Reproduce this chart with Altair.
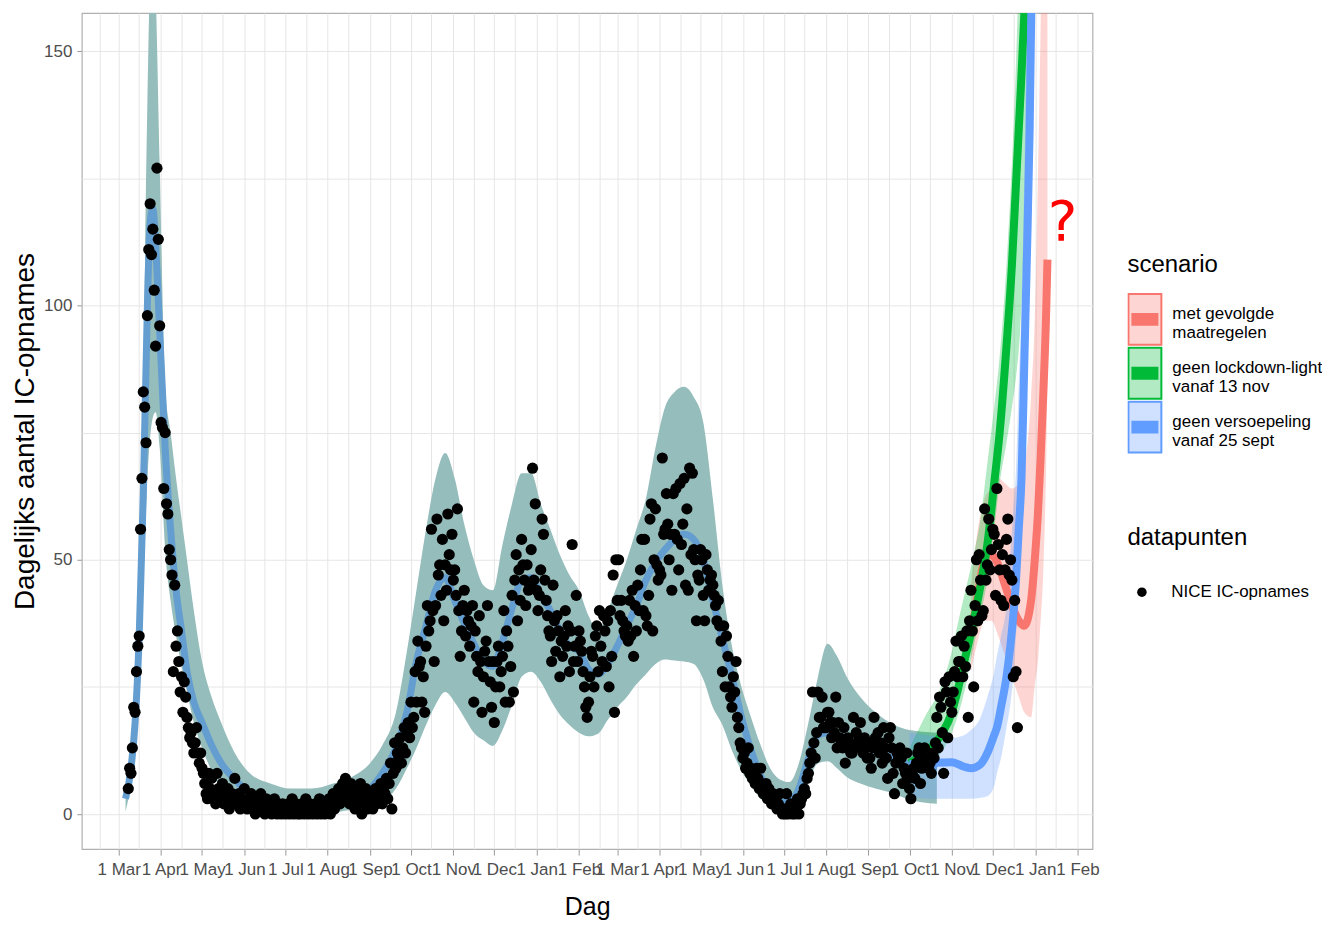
import altair as alt
import pandas as pd

SANS = "Liberation Sans, Arial, Helvetica, sans-serif"

# NICE daily IC admissions (one list per month)
ic_2020_03 = [5, 9, 8, 13, 21, 20, 28, 33, 35, 56, 66, 83, 80, 73, 98, 111, 120, 110, 115, 103, 92, 127, 113, 96]
ic_2020_04 = [77, 76, 64, 75, 61, 59, 52, 50, 47, 28, 45, 33, 36, 30, 24, 27, 20, 26, 23, 19, 17, 15, 16, 14, 12, 14, 17, 12, 10, 12]
ic_2020_05 = [9, 8, 6, 4, 3, 8, 5, 7, 4, 3, 2, 8, 5, 4, 3, 6, 2, 4, 3, 5, 1, 3, 4, 2, 7, 3, 2, 4, 1, 3, 2]
ic_2020_06 = [5, 2, 1, 3, 2, 4, 1, 2, 0, 3, 2, 1, 4, 1, 2, 0, 3, 1, 2, 2, 0, 1, 3, 1, 0, 2, 1, 0, 2, 1]
ic_2020_07 = [0, 1, 2, 0, 1, 3, 0, 1, 2, 0, 1, 0, 2, 1, 0, 3, 1, 0, 2, 1, 0, 1, 2, 0, 1, 3, 0, 2, 1, 0, 2]
ic_2020_08 = [1, 3, 0, 2, 4, 1, 3, 2, 5, 2, 4, 6, 3, 7, 4, 5, 2, 6, 3, 4, 1, 5, 3, 2, 6, 0, 4, 2, 5, 1, 3]
ic_2020_09 = [2, 4, 1, 3, 5, 2, 4, 3, 6, 2, 5, 4, 7, 3, 6, 10, 1, 8, 14, 9, 12, 11, 15, 10, 13, 17, 12, 16, 18, 15]
ic_2020_10 = [22, 17, 19, 28, 22, 34, 29, 30, 22, 27, 20, 33, 41, 36, 38, 56, 40, 30, 41, 58, 47, 49, 43, 54, 38, 49, 44, 59, 51, 48, 55]
ic_2020_11 = [46, 48, 43, 60, 40, 31, 36, 41, 44, 35, 40, 38, 33, 37, 41, 22, 36, 31, 28, 39, 30, 20, 27, 32, 34, 41, 30, 26, 21, 30]
ic_2020_12 = [18, 25, 30, 33, 25, 28, 31, 40, 22, 36, 33, 22, 29, 43, 24, 46, 51, 38, 48, 42, 54, 49, 46, 41, 49, 44, 45, 52, 68, 46, 61]
ic_2021_01 = [44, 40, 43, 48, 58, 55, 46, 42, 39, 36, 35, 30, 45, 38, 32, 39, 36, 27, 34, 31, 35, 40, 33, 37, 28, 36, 53, 30, 33, 43, 30]
ic_2021_02 = [36, 34, 32, 28, 25, 21, 19, 22, 27, 32, 31, 25, 35, 37, 28, 40, 33, 30, 39, 36, 29, 38, 25, 40, 31, 47, 20, 50]
ic_2021_03 = [42, 50, 39, 42, 38, 36, 35, 37, 34, 42, 35, 44, 31, 41, 36, 45, 40, 48, 54, 40, 54, 39, 37, 43, 58, 61, 36, 50, 60, 49, 46]
ic_2021_04 = [48, 47, 70, 55, 56, 63, 57, 50, 55, 44, 63, 55, 64, 54, 48, 65, 53, 57, 66, 45, 60, 44, 68, 51, 67, 52, 50, 38, 47, 46]
ic_2021_05 = [52, 50, 43, 38, 51, 48, 44, 46, 47, 45, 43, 41, 38, 42, 37, 34, 28, 37, 25, 35, 31, 25, 23, 21, 27, 24, 30, 19, 17, 14, 13]
ic_2021_06 = [11, 12, 9, 10, 13, 8, 9, 7, 8, 6, 9, 7, 5, 9, 6, 4, 5, 6, 3, 5, 4, 2, 4, 3, 3, 1, 2, 4, 1, 0]
ic_2021_07 = [1, 0, 4, 0, 1, 2, 0, 1, 0, 1, 3, 0, 2, 3, 4, 5, 4, 7, 8, 10, 12, 24, 14, 11, 16, 24, 19, 19, 23, 17, 17]
ic_2021_08 = [17, 20, 20, 18, 15, 18, 16, 23, 13, 18, 15, 14, 13, 17, 10, 13, 15, 14, 12, 12, 19, 13, 16, 14, 15, 18, 14, 12, 15, 13, 11]
ic_2021_09 = [14, 11, 9, 13, 19, 15, 13, 16, 12, 14, 10, 17, 13, 11, 7, 15, 17, 13, 8, 4, 10, 12, 11, 13, 11, 6, 9, 8, 12, 7]
ic_2021_10 = [5, 3, 8, 9, 7, 10, 12, 13, 6, 9, 11, 13, 10, 11, 9, 10, 8, 12, 11, 14, 19, 13, 23, 21, 16, 8, 26, 24, 15, 27, 22]
ic_2021_11 = [20, 24, 28, 34, 27, 30, 30, 35, 27, 33, 29, 36, 19, 38, 44, 36, 25, 41, 50, 38, 51, 46, 39, 40, 60, 46, 49, 58, 48, 52]
ic_2021_12 = [56, 55, 43, 64, 53, 48, 42, 51, 41, 48, 54, 58, 47, 50, 46, 27, 42, 28, 17]

ic_months = [
    ("2020-03-08", ic_2020_03), ("2020-04-01", ic_2020_04), ("2020-05-01", ic_2020_05),
    ("2020-06-01", ic_2020_06), ("2020-07-01", ic_2020_07), ("2020-08-01", ic_2020_08),
    ("2020-09-01", ic_2020_09), ("2020-10-01", ic_2020_10), ("2020-11-01", ic_2020_11),
    ("2020-12-01", ic_2020_12), ("2021-01-01", ic_2021_01), ("2021-02-01", ic_2021_02),
    ("2021-03-01", ic_2021_03), ("2021-04-01", ic_2021_04), ("2021-05-01", ic_2021_05),
    ("2021-06-01", ic_2021_06), ("2021-07-01", ic_2021_07), ("2021-08-01", ic_2021_08),
    ("2021-09-01", ic_2021_09), ("2021-10-01", ic_2021_10), ("2021-11-01", ic_2021_11),
    ("2021-12-01", ic_2021_12),
]

# model fit (line) with its uncertainty band
fit_dates = ["2020-03-06", "2020-03-10", "2020-03-13", "2020-03-16", "2020-03-19", "2020-03-22", "2020-03-24",
             "2020-03-26", "2020-03-28", "2020-03-31", "2020-04-04", "2020-04-08", "2020-04-12", "2020-04-16",
             "2020-04-20", "2020-04-25", "2020-05-01", "2020-05-08", "2020-05-15", "2020-05-25", "2020-06-05",
             "2020-06-20", "2020-07-05", "2020-07-20", "2020-08-05", "2020-08-20", "2020-09-01", "2020-09-10",
             "2020-09-20", "2020-09-28", "2020-10-05", "2020-10-12", "2020-10-19", "2020-10-26", "2020-11-02",
             "2020-11-09", "2020-11-16", "2020-11-23", "2020-11-30", "2020-12-07", "2020-12-14", "2020-12-21",
             "2020-12-28", "2021-01-04", "2021-01-11", "2021-01-18", "2021-01-25", "2021-02-01", "2021-02-08",
             "2021-02-15", "2021-02-22", "2021-03-01", "2021-03-08", "2021-03-15", "2021-03-22", "2021-03-29",
             "2021-04-05", "2021-04-12", "2021-04-19", "2021-04-26", "2021-05-03", "2021-05-10", "2021-05-17",
             "2021-05-24", "2021-05-31", "2021-06-07", "2021-06-14", "2021-06-21", "2021-06-28", "2021-07-05",
             "2021-07-12", "2021-07-19", "2021-07-26", "2021-08-02", "2021-08-09", "2021-08-16", "2021-08-26",
             "2021-09-06", "2021-09-20", "2021-10-01", "2021-10-10", "2021-10-21"]
fit_mid = [3, 9, 18, 35, 63, 100, 116, 119, 112, 95,
           72, 56, 44, 36, 28, 22,
           18, 13.5, 10, 6.8,
           4, 2.5, 1.5, 1.8, 2.5, 3.5,
           5, 8, 13, 20,
           30, 37, 44, 46.5,
           42, 37.5, 33.5, 30, 29,
           34, 40.5, 46, 46.5,
           43, 40, 36, 33,
           32, 28.5, 27.5, 29.5,
           33, 37, 41, 46, 49.5,
           52, 54, 55, 54,
           50, 42, 34.5, 27, 19,
           12.5, 7.5, 4, 2.3,
           2.5, 5, 11, 15.5,
           16, 15.3, 14, 13.4,
           12.5, 10.8,
           9.8, 9.4, 8.8]
fit_lo = [0.5, 6, 13, 26, 45, 66, 74, 78, 79, 72,
          52, 42, 35, 29, 24, 18,
          13, 8.5, 5, 2.5,
          1.2, 0.3, 0, 0, 0.3, 1,
          2, 2.5, 5, 9,
          13, 17.5, 21.5, 24,
          22, 19, 16, 14.5, 13.4,
          16.5, 21.5, 27, 28,
          26, 22.5, 19.5, 17.5,
          16, 15.3, 15.8, 18.5,
          21, 23, 25.5, 27.5, 29.5,
          30.4, 30.2, 30, 29.5,
          26.5, 21, 17.5, 12.5, 8.5,
          5.5, 3, 1.5, 0.6,
          0.4, 2.5, 6.5, 10,
          10.4, 9, 7.3, 6,
          5, 4,
          2.8, 2.3, 2]
fit_hi = [5, 12, 24, 45, 85, 140, 165, 172, 162, 128,
          84, 75, 66, 58, 50, 40,
          30, 23, 18, 12,
          8, 6, 5, 5, 6, 7.5,
          10, 13.5, 20, 32,
          44, 56, 66, 71,
          66, 57, 50, 45, 44,
          53, 61, 67, 67,
          61, 56, 51, 47,
          44, 39, 36, 40,
          45, 50, 56, 62, 72,
          80, 83, 84, 82,
          77, 62, 45, 33, 25,
          19, 13.5, 9, 6.8,
          6.3, 10, 18, 27,
          33.5, 31, 27, 23,
          20, 17.5,
          16.5, 16.2, 16]

# scenarios
scen_names = ["met gevolgde|\u00a0maatregelen",
              "geen lockdown-light|\u00a0vanaf 13 nov",
              "geen versoepeling|\u00a0vanaf 25 sept"]
scen_line_colors = ["#F8766D", "#00BA38", "#619CFF"]
scen_fill_colors = ["rgba(248,118,109,0.3)", "rgba(0,186,56,0.3)", "rgba(97,156,255,0.3)"]

red_dates = ["2021-11-15", "2021-11-20", "2021-11-25", "2021-11-30", "2021-12-05", "2021-12-10", "2021-12-15",
             "2021-12-20", "2021-12-24", "2021-12-29", "2022-01-01", "2022-01-03", "2022-01-05", "2022-01-07",
             "2022-01-09", "2022-01-10"]
red_mid = [35, 43, 50, 51, 49, 45, 41, 38, 37, 42, 51, 59, 70, 83, 98, 109]
red_lo = [28, 34, 38, 38, 35, 31, 27, 23, 20, 19, 26, 30, 38, 48, 68, 85]
red_hi = [45, 56, 62, 64, 66, 65, 64, 65, 68, 82, 100, 125, 155, 190, 220, 240]

green_dates = ["2021-10-01", "2021-10-12", "2021-10-24", "2021-11-01", "2021-11-05", "2021-11-11", "2021-11-17",
               "2021-11-22", "2021-11-27", "2021-12-02", "2021-12-06", "2021-12-11", "2021-12-15", "2021-12-18",
               "2021-12-21", "2021-12-24", "2021-12-28"]
green_mid = [10, 12, 15.5, 20, 24, 31, 38, 45, 53, 65, 75, 92, 108, 124, 140, 157, 190]
green_lo = [8, 9.5, 12, 16, 19, 25, 33, 39, 46, 56, 65, 73, 80, 86, 95, 115, 175]
green_hi = [13, 19, 25, 32, 37, 44, 51, 58, 69, 80, 90, 108, 128, 148, 175, 205, 250]

blue_dates = ["2021-10-01", "2021-10-15", "2021-11-01", "2021-11-10", "2021-11-15", "2021-11-22", "2021-11-27",
              "2021-12-02", "2021-12-04", "2021-12-07", "2021-12-11", "2021-12-14", "2021-12-16", "2021-12-18",
              "2021-12-20", "2021-12-22", "2021-12-24", "2021-12-26", "2021-12-28", "2021-12-30", "2022-01-02"]
blue_mid = [9.8, 10, 10.2, 9.3, 9, 9.8, 12, 15.5, 17, 21, 27, 33.5, 39, 46, 56, 66, 88, 110, 135, 175, 230]
blue_lo = [3.5, 3, 3, 3, 3, 3.2, 3.5, 5.5, 8, 11, 17, 22, 27, 35, 43, 55, 68, 85, 110, 145, 200]
blue_hi = [16, 15.5, 15, 15.5, 16.5, 19, 23, 28, 31, 35, 41, 52, 60, 68, 85, 100, 125, 160, 200, 250, 320]

q_date = ["2022-01-21"]
q_value = [116.2]
q_text = ["?"]


def ms(day):
    return int(pd.Timestamp(day).value // 10**6)


pts = pd.concat(
    [pd.DataFrame({"dag": pd.date_range(s, periods=len(v), freq="D").strftime("%Y-%m-%d"), "ic": v})
     for s, v in ic_months],
    ignore_index=True,
)
pts["datapunten"] = "NICE IC-opnames"

fit = pd.DataFrame({"dag": fit_dates, "mid": fit_mid, "lo": fit_lo, "hi": fit_hi})

scen = pd.concat(
    [pd.DataFrame({"dag": d, "mid": m, "lo": lo, "hi": hi, "scenario": n})
     for n, d, m, lo, hi in [
         (scen_names[0], red_dates, red_mid, red_lo, red_hi),
         (scen_names[1], green_dates, green_mid, green_lo, green_hi),
         (scen_names[2], blue_dates, blue_mid, blue_lo, blue_hi),
     ]],
    ignore_index=True,
)

qmark = pd.DataFrame({"dag": q_date, "v": q_value, "t": q_text})

# axes: month ticks with labels, mid-month minor grid lines
majors = pd.date_range("2020-03-01", "2022-02-01", freq="MS")
minors = pd.date_range("2020-02-01", "2022-01-01", freq="MS") + pd.Timedelta(days=15)
x_vals = sorted([ms(d) for d in majors] + [ms(d) for d in minors])

x_axis = alt.Axis(
    values=x_vals, title="Dag",
    labelExpr="utcdate(datum.value) == 1 ? '1 ' + utcFormat(datum.value, '%b') : ''",
    tickOpacity={"condition": {"test": "utcdate(datum.value) == 1", "value": 1}, "value": 0},
    labelOverlap=False, labelFlush=False, labelBound=False,
    labelFont=SANS, labelFontSize=17, labelColor="#4d4d4d", labelPadding=6,
    tickSize=6, tickColor="#9a9a9a", domain=False,
    grid=True, gridColor="#e6e6e6", gridWidth=1,
    titleFont=SANS, titleFontSize=25, titleFontWeight="normal", titleColor="black", titleY=46,
)
y_axis = alt.Axis(
    values=[0, 25, 50, 75, 100, 125, 150], title="Dagelijks aantal IC-opnames",
    labelExpr="datum.value % 50 == 0 ? datum.label : ''",
    tickOpacity={"condition": {"test": "datum.value % 50 == 0", "value": 1}, "value": 0},
    labelFont=SANS, labelFontSize=17, labelColor="#4d4d4d", labelPadding=5,
    tickSize=5, tickColor="#9a9a9a", domain=False,
    grid=True, gridColor="#e6e6e6", gridWidth=1,
    titleFont=SANS, titleFontSize=28, titleFontWeight="normal", titleColor="black",
    titleX=-42, titleY=419,
)

x_scale = alt.Scale(type="utc", domain=[ms("2020-02-03"), ms("2022-02-12")], nice=False)
y_scale = alt.Scale(domain=[-6.9, 157.5], nice=False, zero=False)

X = alt.X("dag:T", scale=x_scale, axis=x_axis)


def Y(field):
    return alt.Y(field, scale=y_scale, axis=y_axis, stack=None)


# legend key: tall box with a thick bar through the middle
key_bar = "".join(f"M-0.82,{y}L0.82,{y}" for y in ["-0.33", "-0.22", "-0.11", "0", "0.11", "0.22", "0.33"])
KEY_PATH = "M-1,-1.545L1,-1.545L1,1.545L-1,1.545Z" + key_bar

scen_legend = alt.Legend(
    title="scenario", orient="none", legendX=1048, legendY=241, padding=0,
    symbolType=KEY_PATH, symbolSize=1089, symbolStrokeWidth=2,
    labelExpr="split(datum.label, '|')", labelOffset=10, labelLimit=400, labelBaseline="alphabetic",
    clipHeight=54, rowPadding=0, titlePadding=15,
)
dot_legend = alt.Legend(
    title="datapunten", orient="none", legendX=1048, legendY=514, padding=0,
    symbolType="circle", symbolSize=90, symbolFillColor="black", symbolStrokeWidth=0,
    symbolOffset=6, labelOffset=21, titlePadding=34,
)

fit_band = alt.Chart(fit).mark_area(color="#95bdbc", interpolate="monotone", clip=True).encode(
    x=X, y=Y("lo:Q"), y2="hi:Q")
fit_line = alt.Chart(fit).mark_line(color="#649dcf", strokeWidth=7, interpolate="monotone", clip=True).encode(
    x=X, y=Y("mid:Q"))

scen_band = alt.Chart(scen).mark_area(interpolate="monotone", clip=True).encode(
    x=X, y=Y("lo:Q"), y2="hi:Q",
    fill=alt.Fill("scenario:N", scale=alt.Scale(domain=scen_names, range=scen_fill_colors), legend=scen_legend),
)
scen_line = alt.Chart(scen).mark_line(strokeWidth=8, interpolate="monotone", clip=True).encode(
    x=X, y=Y("mid:Q"),
    stroke=alt.Stroke("scenario:N", scale=alt.Scale(domain=scen_names, range=scen_line_colors), legend=scen_legend),
)

points = alt.Chart(pts).mark_circle(size=125, color="black", opacity=1, clip=True).encode(
    x=X, y=Y("ic:Q"),
    strokeDash=alt.StrokeDash("datapunten:N", scale=alt.Scale(domain=["NICE IC-opnames"], range=[[1, 0]]),
                              legend=dot_legend),
)

question = alt.Chart(qmark).mark_text(color="#ff0000", font="DejaVu Sans", fontSize=56, baseline="middle",
                                      align="center").encode(x=X, y=Y("v:Q"), text="t:N")

chart = alt.layer(fit_band, fit_line, scen_band, scen_line, points, question).properties(
    width=1013, height=838,
    padding={"left": 74, "top": 4, "right": 230, "bottom": 70},
    autosize=alt.AutoSizeParams(type="none"),
).configure_view(
    stroke="#b0b0b0", strokeWidth=1.2
).configure_legend(
    titleFont=SANS, titleFontSize=24, titleFontWeight="normal", titleColor="black",
    labelFont=SANS, labelFontSize=17, labelColor="black",
)

chart.save("out.html", embed_options={"renderer": "svg", "actions": False})
